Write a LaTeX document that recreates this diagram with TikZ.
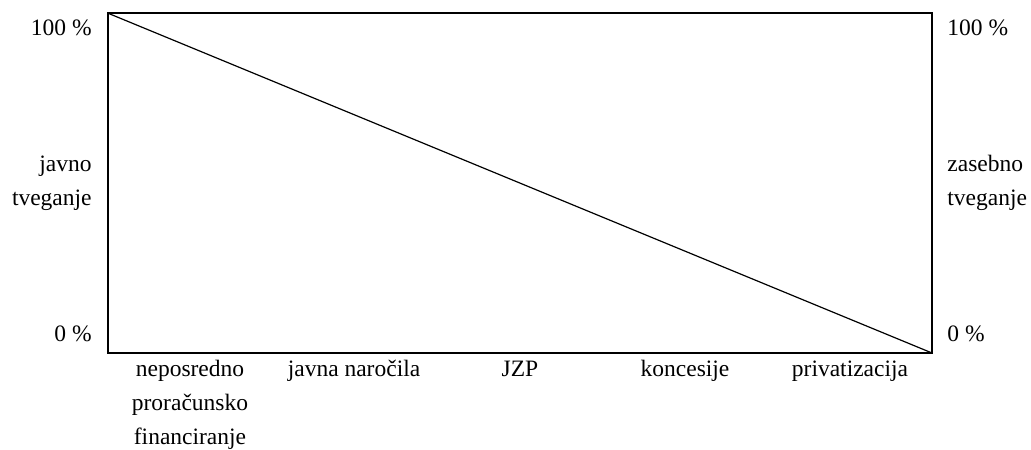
\documentclass[tikz,border=0pt]{standalone}
\usepackage{fontspec}
\setmainfont{Liberation Serif}
\begin{document}
\begin{tikzpicture}[x=0.5pt,y=-0.5pt,
  lbl/.style={inner sep=0pt, font=\fontsize{11.75}{16.5}\selectfont},
  frame/.style={draw=black, line width=1pt},
  diag/.style={draw=black, line width=0.6pt}]
\useasboundingbox (0,0) rectangle (1031,449);
\coordinate (tl) at (107.5,13);
\coordinate (br) at (932,353);
\draw[frame] (tl) rectangle (br);
\draw[diag] (tl) -- (br);
% left labels
\node[lbl, anchor=base east] (l100) at (92,36) {100 \%};
\node[lbl, anchor=base east] (l0) at (92,341) {0 \%};
\node[lbl, anchor=base east] (ljav) at (92,171.5) {javno};
\node[lbl, anchor=base east] (ltv) at (92,205) {tveganje};
% right labels
\node[lbl, anchor=base west] (r100) at (947,36) {100 \%};
\node[lbl, anchor=base west] (r0) at (947,341) {0 \%};
\node[lbl, anchor=base west] (rzas) at (947,171.5) {zasebno};
\node[lbl, anchor=base west] (rtv) at (947,205) {tveganje};
% bottom labels
\node[lbl, anchor=base] (b1a) at (190,376) {neposredno};
\node[lbl, anchor=base] (b1b) at (190,410) {proračunsko};
\node[lbl, anchor=base] (b1c) at (190,444) {financiranje};
\node[lbl, anchor=base] (b2) at (354,376) {javna naročila};
\node[lbl, anchor=base] (b3) at (520,376) {JZP};
\node[lbl, anchor=base] (b4) at (685,376) {koncesije};
\node[lbl, anchor=base] (b5) at (850,376) {privatizacija};
\end{tikzpicture}
\end{document}
